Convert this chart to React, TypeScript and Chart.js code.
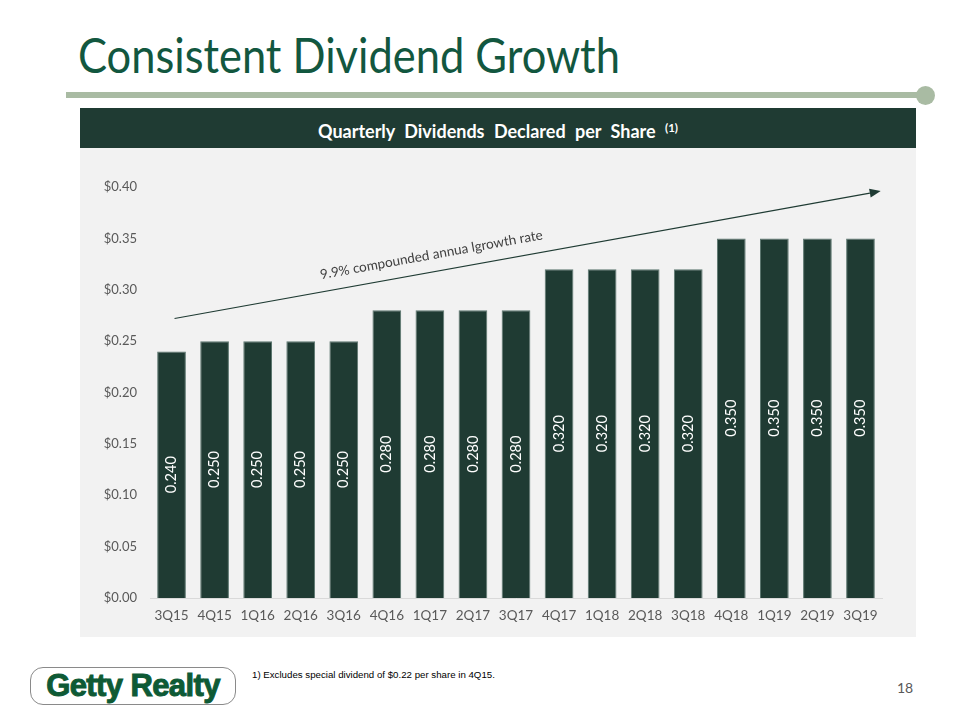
import React, { useEffect, useRef } from "react";
import { Chart, registerables } from "chart.js";

Chart.register(...registerables);

const categories = ["3Q15","4Q15","1Q16","2Q16","3Q16","4Q16","1Q17","2Q17","3Q17","4Q17","1Q18","2Q18","3Q18","4Q18","1Q19","2Q19","3Q19"];
const dividends = [0.24,0.25,0.25,0.25,0.25,0.28,0.28,0.28,0.28,0.32,0.32,0.32,0.32,0.35,0.35,0.35,0.35];
const yTicks = [0, 0.05, 0.1, 0.15, 0.2, 0.25, 0.3, 0.35, 0.4];
// trend arrow annotation: [category index, value]
const arrowStart = [0.07, 0.272];
const arrowEnd = [16.47, 0.396];
const arrowText = "9.9% compounded annua lgrowth rate";

const BAR = "#1f3b33";
const FONT = "Lato, 'Open Sans', sans-serif";

const labelsPlugin = {
  id: "barLabels",
  afterDatasetsDraw(chart: any) {
    const ctx = chart.ctx;
    const meta = chart.getDatasetMeta(0);
    ctx.save();
    ctx.fillStyle = "#ffffff";
    ctx.font = `14.5px ${FONT}`;
    ctx.textAlign = "center";
    ctx.textBaseline = "middle";
    meta.data.forEach((bar: any, i: number) => {
      ctx.save();
      ctx.translate(bar.x, (bar.y + bar.base) / 2);
      ctx.rotate(-Math.PI / 2);
      ctx.fillText(dividends[i].toFixed(3), 0, 0);
      ctx.restore();
    });
    ctx.restore();
  },
};

const arrowPlugin = {
  id: "trendArrow",
  afterDraw(chart: any) {
    const { ctx, scales } = chart;
    const x1 = scales.x.getPixelForValue(arrowStart[0]);
    const y1 = scales.y.getPixelForValue(arrowStart[1]);
    const x2 = scales.x.getPixelForValue(arrowEnd[0]);
    const y2 = scales.y.getPixelForValue(arrowEnd[1]);
    const ang = Math.atan2(y2 - y1, x2 - x1);
    ctx.save();
    ctx.strokeStyle = "#1f3b33";
    ctx.fillStyle = "#1f3b33";
    ctx.lineWidth = 1.2;
    const hl = 11;
    ctx.beginPath();
    ctx.moveTo(x1, y1);
    ctx.lineTo(x2 - hl * Math.cos(ang), y2 - hl * Math.sin(ang));
    ctx.stroke();
    ctx.translate(x2, y2);
    ctx.rotate(ang);
    ctx.beginPath();
    ctx.moveTo(0, 0);
    ctx.lineTo(-hl, -4.5);
    ctx.lineTo(-hl, 4.5);
    ctx.closePath();
    ctx.fill();
    ctx.restore();

    const t = 0.368;
    const cx = x1 + (x2 - x1) * t;
    const cy = y1 + (y2 - y1) * t;
    ctx.save();
    ctx.translate(cx, cy);
    ctx.rotate(ang);
    ctx.fillStyle = "#404040";
    ctx.font = `13.5px ${FONT}`;
    ctx.textAlign = "center";
    ctx.textBaseline = "middle";
    ctx.fillText(arrowText, 0, -17);
    ctx.restore();
  },
};

function DividendChart() {
  const ref = useRef<HTMLCanvasElement>(null);
  useEffect(() => {
    if (!ref.current) return;
    const chart = new Chart(ref.current, {
      type: "bar",
      data: {
        labels: categories,
        datasets: [
          {
            data: dividends,
            backgroundColor: BAR,
            borderColor: "#5d7770",
            borderWidth: 1,
            categoryPercentage: 0.8,
            barPercentage: 0.834,
          },
        ],
      },
      options: {
        animation: false,
        responsive: false,
        layout: { padding: { left: 0, right: 34, top: 39, bottom: 0 } },
        plugins: { legend: { display: false }, tooltip: { enabled: false }, title: { display: false } },
        scales: {
          x: {
            grid: { display: false, drawTicks: false },
            border: { display: true, color: "#d9d9d9", width: 1 },
            ticks: { color: "#595959", font: { family: FONT, size: 13.5 }, padding: 10, maxRotation: 0 },
            afterFit: (s: any) => { s.height = 39; },
          },
          y: {
            min: 0,
            max: 0.4,
            grid: { display: false, drawTicks: false },
            border: { display: false },
            afterBuildTicks: (s: any) => { s.ticks = yTicks.map((v) => ({ value: v })); },
            ticks: {
              color: "#595959",
              font: { family: FONT, size: 13 },
              padding: 13,
              callback: (v: any) => "$" + Number(v).toFixed(2),
            },
            afterFit: (s: any) => { s.width = 70; },
          },
        },
      },
      plugins: [labelsPlugin, arrowPlugin],
    });
    return () => chart.destroy();
  }, []);
  return <canvas ref={ref} width={836} height={489} style={{ display: "block" }} />;
}

export default function App() {
  return (
    <div style={{ position: "absolute", left: 0, top: 0, width: 960, height: 720, background: "#ffffff", overflow: "hidden", fontFamily: FONT }}>
      <div style={{ position: "absolute", left: 78, top: 27, fontSize: 48, lineHeight: "56px", color: "#12573f", whiteSpace: "nowrap", transform: "scaleX(0.905)", transformOrigin: "left top" }}>
        Consistent Dividend Growth
      </div>
      <div style={{ position: "absolute", left: 66, top: 92, width: 860, height: 6, background: "#a9bba3" }} />
      <div style={{ position: "absolute", left: 916, top: 86, width: 19, height: 19, borderRadius: "50%", background: "#a9bba3" }} />
      <div style={{ position: "absolute", left: 80, top: 108, width: 836, height: 40, background: "#1f3b33", color: "#ffffff", fontWeight: 700, fontSize: 18, lineHeight: "40px", textAlign: "center", wordSpacing: 5, whiteSpace: "nowrap" }}>
        Quarterly Dividends Declared per Share <sup style={{ fontSize: 11.5, verticalAlign: "6px" }}>(1)</sup>
      </div>
      <div style={{ position: "absolute", left: 80, top: 148, width: 836, height: 489, background: "#f2f2f2" }}>
        <DividendChart />
      </div>
      <div style={{ position: "absolute", left: 30, top: 667, width: 206, height: 38, border: "1px solid #8a8a8a", borderRadius: 13, boxSizing: "border-box", display: "flex", alignItems: "center", justifyContent: "center" }}>
        <span style={{ fontFamily: "'Liberation Sans', Arial, sans-serif", fontWeight: 900, fontSize: 31, color: "#0e5a35", letterSpacing: -0.6, WebkitTextStroke: "1px #0e5a35" }}>Getty Realty</span>
      </div>
      <div style={{ position: "absolute", left: 252, top: 669, fontFamily: "'Liberation Sans', sans-serif", fontSize: 9.7, color: "#000000", whiteSpace: "nowrap" }}>
        1) Excludes special dividend of $0.22 per share in 4Q15.
      </div>
      <div style={{ position: "absolute", left: 897, top: 679, fontSize: 14, color: "#595959" }}>18</div>
    </div>
  );
}
